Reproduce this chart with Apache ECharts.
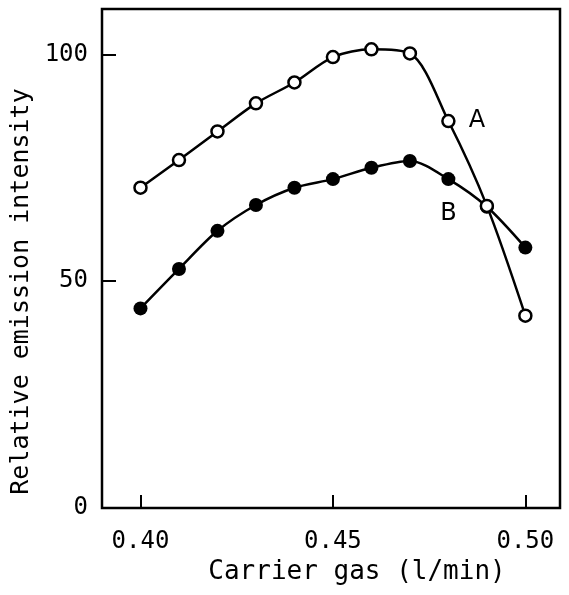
<!DOCTYPE html>
<html>
<head>
<meta charset="utf-8">
<script src="https://cdn.jsdelivr.net/npm/echarts@6/dist/echarts.min.js"></script>
<style>
html,body{margin:0;padding:0;background:#fff;}
#chart{width:569px;height:595px;}
</style>
</head>
<body>
<div id="chart"></div>
<script>
// Carrier gas flow (l/min)
var carrierGas = [0.40, 0.41, 0.42, 0.43, 0.44, 0.45, 0.46, 0.47, 0.48, 0.49, 0.50];
// Curve A (open circles)
var seriesA = [70.6, 76.7, 83.0, 89.2, 93.8, 99.4, 101.1, 100.2, 85.3, 66.6, 42.4];
// Curve B (filled circles)
var seriesB = [44.0, 52.7, 61.1, 66.8, 70.6, 72.5, 75.0, 76.5, 72.5, 66.4, 57.4];
var xTicks = [0.40, 0.45, 0.50];
var yTicks = [0, 50, 100];
var seriesNames = ['A', 'B'];

function pairs(xs, ys) { return xs.map(function (x, i) { return [x, ys[i]]; }); }

var dataA = pairs(carrierGas, seriesA).map(function (p, i) {
  if (i === 8) return { value: p, label: { show: true, formatter: seriesNames[0], position: 'right', distance: 13 } };
  return p;
});
var dataB = pairs(carrierGas, seriesB).map(function (p, i) {
  if (i === 8) return { value: p, label: { show: true, formatter: seriesNames[1], position: 'bottom', distance: 16 } };
  return p;
});

var mono = "'DejaVu Sans Mono', monospace";
var chart = echarts.init(document.getElementById('chart'), null, { renderer: 'canvas' });
chart.setOption({
  animation: false,
  backgroundColor: '#fff',
  grid: { left: 102, top: 9, right: 9, bottom: 87, show: true, borderColor: '#000', borderWidth: 2.5, backgroundColor: 'transparent' },
  xAxis: {
    type: 'value', min: 0.39, max: 0.509,
    name: 'Carrier gas (l/min)', nameLocation: 'middle', nameGap: 50,
    nameTextStyle: { fontFamily: mono, fontSize: 26, color: '#000', padding: [0, 0, 0, 52] },
    axisLine: { show: false },
    splitLine: { show: false },
    axisTick: { show: true, inside: true, length: 13, customValues: xTicks, lineStyle: { color: '#000', width: 2 } },
    axisLabel: { customValues: xTicks, formatter: function (v) { return v.toFixed(2); }, fontFamily: mono, fontSize: 24, color: '#000', margin: 22 }
  },
  yAxis: {
    type: 'value', min: 0, max: 110,
    name: 'Relative emission intensity', nameLocation: 'middle', nameGap: 60,
    nameTextStyle: { fontFamily: mono, fontSize: 25, color: '#000', padding: [0, 66, 0, 0] },
    axisLine: { show: false },
    splitLine: { show: false },
    axisTick: { show: true, inside: true, length: 14, customValues: yTicks, lineStyle: { color: '#000', width: 2 } },
    axisLabel: { customValues: yTicks, fontFamily: mono, fontSize: 24, color: '#000', margin: 14 }
  },
  series: [
    {
      name: 'B', type: 'line', data: dataB, smooth: 0.3, z: 2,
      symbol: 'circle', symbolSize: 14,
      itemStyle: { color: '#000' },
      lineStyle: { color: '#000', width: 2.5 },
      label: { fontFamily: "'DejaVu Sans', sans-serif", fontSize: 24, color: '#000' }
    },
    {
      name: 'A', type: 'line', data: dataA, smooth: 0.3, z: 3,
      symbol: 'circle', symbolSize: 12,
      itemStyle: { color: '#fff', borderColor: '#000', borderWidth: 2.5 },
      lineStyle: { color: '#000', width: 2.5 },
      label: { fontFamily: "'DejaVu Sans', sans-serif", fontSize: 24, color: '#000' }
    }
  ]
});
</script>
</body>
</html>
